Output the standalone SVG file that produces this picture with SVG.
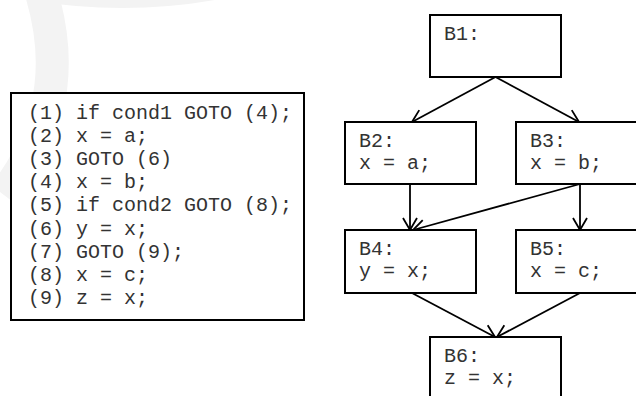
<svg xmlns="http://www.w3.org/2000/svg" width="636" height="396" viewBox="0 0 636 396">
  <style>
    .box { fill: #fff; stroke: #000; stroke-width: 2; }
    .code { font-family: "Liberation Mono", "Courier New", monospace; font-size: 20px; fill: #333; }
    .edge { fill: none; stroke: #000; stroke-width: 1.8; marker-end: url(#arrow); }
    .wm { fill: none; stroke: #f3f3f3; }
  </style>
  <defs>
    <marker id="arrow" markerUnits="userSpaceOnUse" markerWidth="20" markerHeight="20" refX="0" refY="0" viewBox="-14 -10 16 20" orient="auto">
      <path d="M -12 -7 L 0 0 L -12 7" fill="none" stroke="#000" stroke-width="1.8"/>
    </marker>
  </defs>
  <rect width="636" height="396" fill="#fff"/>
  <g id="watermark">
    <path class="wm" d="M 42 -5 C 58 50, 62 120, 4 195" stroke-width="33"/>
    <path d="M 30 0 Q 122 16 215 0 Z" fill="#f3f3f3"/>
  </g>
  <g id="code-listing">
    <rect class="box" x="11" y="93" width="293" height="227"/>
    <text class="code" x="28" y="118.5">(1) if cond1 GOTO (4);</text>
    <text class="code" x="28" y="141.7">(2) x = a;</text>
    <text class="code" x="28" y="164.9">(3) GOTO (6)</text>
    <text class="code" x="28" y="188.1">(4) x = b;</text>
    <text class="code" x="28" y="211.3">(5) if cond2 GOTO (8);</text>
    <text class="code" x="28" y="234.5">(6) y = x;</text>
    <text class="code" x="28" y="257.7">(7) GOTO (9);</text>
    <text class="code" x="28" y="280.9">(8) x = c;</text>
    <text class="code" x="28" y="304.1">(9) z = x;</text>
  </g>
  <g id="connectors">
    <line class="edge" x1="495.5" y1="77" x2="412" y2="122"/>
    <line class="edge" x1="495.5" y1="77" x2="579" y2="122"/>
    <line class="edge" x1="410" y1="184" x2="410" y2="230"/>
    <line class="edge" x1="580" y1="184" x2="413" y2="230"/>
    <line class="edge" x1="580" y1="184" x2="580" y2="230"/>
    <line class="edge" x1="412" y1="293" x2="495" y2="337"/>
    <line class="edge" x1="580" y1="293" x2="497" y2="337"/>
  </g>
  <g id="B1">
    <rect class="box" x="430" y="15" width="131" height="62"/>
    <text class="code" x="444" y="39.5">B1:</text>
  </g>
  <g id="B2">
    <rect class="box" x="345" y="122" width="131" height="62"/>
    <text class="code" x="359" y="146.7">B2:</text>
    <text class="code" x="359" y="169.3">x = a;</text>
  </g>
  <g id="B3">
    <rect class="box" x="516" y="122" width="131" height="62"/>
    <text class="code" x="530" y="146.7">B3:</text>
    <text class="code" x="530" y="169.3">x = b;</text>
  </g>
  <g id="B4">
    <rect class="box" x="345" y="230" width="131" height="63"/>
    <text class="code" x="359" y="254.7">B4:</text>
    <text class="code" x="359" y="277.3">y = x;</text>
  </g>
  <g id="B5">
    <rect class="box" x="516" y="230" width="131" height="63"/>
    <text class="code" x="530" y="254.7">B5:</text>
    <text class="code" x="530" y="277.3">x = c;</text>
  </g>
  <g id="B6">
    <rect class="box" x="430" y="337" width="131" height="63"/>
    <text class="code" x="444" y="361.7">B6:</text>
    <text class="code" x="444" y="384">z = x;</text>
  </g>
</svg>
